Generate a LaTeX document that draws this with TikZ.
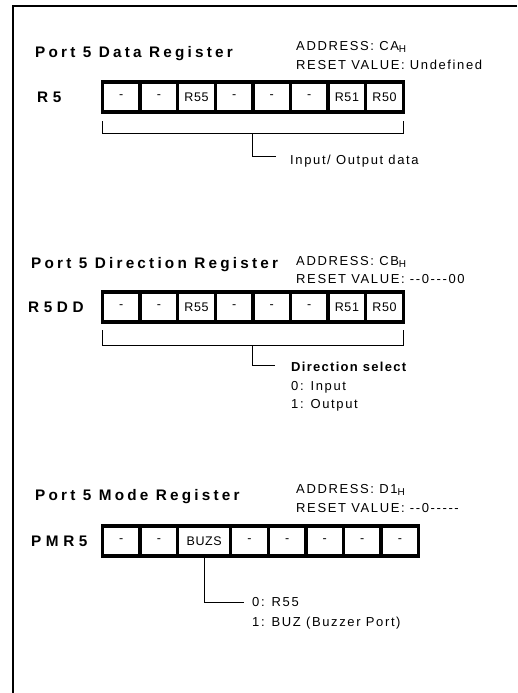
\documentclass[tikz,border=0pt]{standalone}
\usepackage{fontspec}
\setmainfont{Liberation Sans}
\newfontfamily\titlef[LetterSpace=21,Ligatures=TeXOff]{Liberation Sans}
\newfontfamily\labf[LetterSpace=30,Ligatures=TeXOff]{Liberation Sans}
\newfontfamily\smallf[LetterSpace=12.5,Ligatures=TeXOff]{Liberation Sans}
\newfontfamily\boldsmallf[LetterSpace=10,Ligatures=TeXOff]{Liberation Sans}
\newfontfamily\cellfnt[LetterSpace=5,Ligatures=TeXOff]{Liberation Sans}
\usetikzlibrary{calc}
\newcommand{\subH}{{\fontsize{10}{11}\selectfont\raisebox{-2.2pt}{H}}}
\begin{document}
\begin{tikzpicture}[x=1pt,y=-1pt,
  title/.style={anchor=base west, inner sep=0pt, font=\titlef\bfseries\fontsize{15.3}{18}\selectfont},
  lab/.style={anchor=base west, inner sep=0pt, font=\labf\bfseries\fontsize{15.3}{18}\selectfont},
  info/.style={anchor=base west, inner sep=0pt, font=\smallf\fontsize{13}{15}\selectfont},
  infob/.style={info, font=\boldsmallf\bfseries\fontsize{13}{15}\selectfont},
  cell/.style={draw, line width=3.5pt, outer sep=0pt, minimum width=37.6pt, minimum height=30pt, inner sep=0pt, anchor=west, font=\cellfnt\fontsize{12.5}{14}\selectfont},
  widecell/.style={cell, minimum width=53pt},
  brk/.style={line width=0.9pt},
  frame/.style={line width=2.5pt}]
\useasboundingbox (0,0) rectangle (517,693);
% frame
\coordinate (fr1) at (517,6);
\coordinate (fr2) at (13,6);
\coordinate (fr3) at (13,693);
\draw[frame] (fr1) -- (fr2) -- (fr3);

% ---------- Register 1 ----------
\node[title] (title1) at (35,57.5) {Port 5 Data Register};
\node[info] (addr1) at (296,50.5) {ADDRESS: CA\subH};
\node[info] (reset1) at (296,69.5) {RESET VALUE: Undefined};
\node[lab] (lab1) at (37,102) {R5};
\node[cell] (a1) at (102.5,97) {-};
\node[cell] (a2) at (a1.east) {-};
\node[cell] (a3) at (a2.east) {R55};
\node[cell] (a4) at (a3.east) {-};
\node[cell] (a5) at (a4.east) {-};
\node[cell] (a6) at (a5.east) {-};
\node[cell] (a7) at (a6.east) {R51};
\node[cell] (a8) at (a7.east) {R50};
\coordinate (b1l) at ($(a1.south west)+(0,9)$);
\coordinate (b1lb) at ($(a1.south west)+(0,21)$);
\coordinate (b1r) at ($(a8.south east)+(0,9)$);
\coordinate (b1rb) at ($(a8.south east)+(0,21)$);
\draw[brk] (b1l) -- (b1lb) -- (b1rb) -- (b1r);
\coordinate (s1) at ($(b1lb)!0.5!(b1rb)$);
\coordinate (s1b) at ($(s1)+(0,23)$);
\coordinate (s1e) at ($(s1)+(23,23)$);
\draw[brk] (s1) -- (s1b) -- (s1e);
\node[info] (t1) at (290,164) {Input/ Output data};

% ---------- Register 2 ----------
\node[title] (title2) at (31,268.5) {Port 5 Direction Register};
\node[info] (addr2) at (296,265) {ADDRESS: CB\subH};
\node[info] (reset2) at (296,283.5) {RESET VALUE: --0---00};
\node[lab] (lab2) at (28,312) {R5DD};
\node[cell] (b1) at (102.5,307) {-};
\node[cell] (b2) at (b1.east) {-};
\node[cell] (b3) at (b2.east) {R55};
\node[cell] (b4) at (b3.east) {-};
\node[cell] (b5) at (b4.east) {-};
\node[cell] (b6) at (b5.east) {-};
\node[cell] (b7) at (b6.east) {R51};
\node[cell] (b8) at (b7.east) {R50};
\coordinate (b2l) at ($(b1.south west)+(0,8)$);
\coordinate (b2lb) at ($(b1.south west)+(0,23)$);
\coordinate (b2r) at ($(b8.south east)+(0,8)$);
\coordinate (b2rb) at ($(b8.south east)+(0,23)$);
\draw[brk] (b2l) -- (b2lb) -- (b2rb) -- (b2r);
\coordinate (s2) at ($(b2lb)!0.5!(b2rb)$);
\coordinate (s2b) at ($(s2)+(0,20)$);
\coordinate (s2e) at ($(s2)+(22,20)$);
\draw[brk] (s2) -- (s2b) -- (s2e);
\node[infob] (t2a) at (291,371.5) {Direction select};
\node[info] (t2b) at (291,390) {0: Input};
\node[info] (t2c) at (291,408.5) {1: Output};

% ---------- Register 3 ----------
\node[title] (title3) at (35,500) {Port 5 Mode Register};
\node[info] (addr3) at (296,493) {ADDRESS: D1\subH};
\node[info] (reset3) at (296,512) {RESET VALUE: --0-----};
\node[lab] (lab3) at (31,546) {PMR5};
\node[cell] (c1) at (102.5,541) {-};
\node[cell] (c2) at (c1.east) {-};
\node[widecell] (c3) at (c2.east) {BUZS};
\node[cell] (c4) at (c3.east) {-};
\node[cell] (c5) at (c4.east) {-};
\node[cell] (c6) at (c5.east) {-};
\node[cell] (c7) at (c6.east) {-};
\node[cell] (c8) at (c7.east) {-};
\coordinate (s3b) at ($(c3.south)+(0,46)$);
\coordinate (s3e) at ($(c3.south)+(40,46)$);
\draw[brk] (c3.south) -- (s3b) -- (s3e);
\node[info] (t3a) at (252,606.5) {0: R55};
\node[info] (t3b) at (252,626) {1: BUZ (Buzzer Port)};
\end{tikzpicture}
\end{document}
